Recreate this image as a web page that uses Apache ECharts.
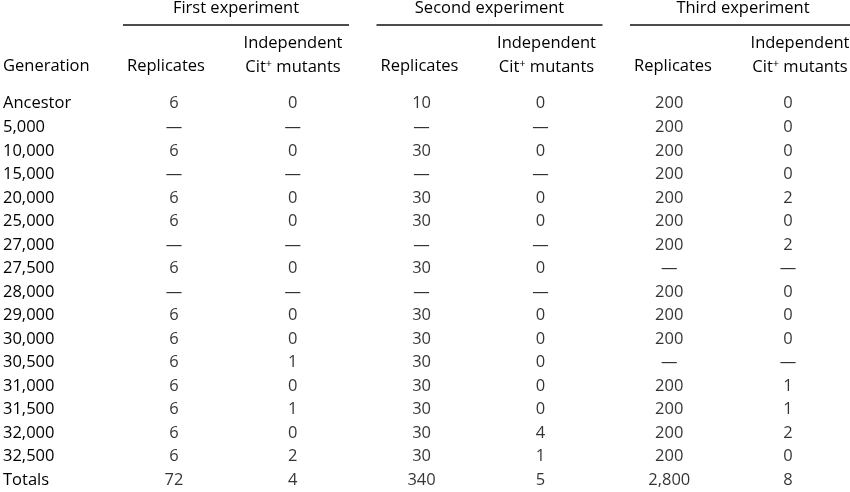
<!DOCTYPE html>
<html>
<head>
<meta charset="utf-8">
<script src="https://cdn.jsdelivr.net/npm/echarts@6/dist/echarts.min.js"></script>
<style>html,body{margin:0;padding:0;background:#fff}#main{width:850px;height:492px}</style>
</head>
<body>
<div id="main"></div>
<script>
// table data
const generations = ['Ancestor', '5,000', '10,000', '15,000', '20,000', '25,000', '27,000', '27,500', '28,000',
  '29,000', '30,000', '30,500', '31,000', '31,500', '32,000', '32,500', 'Totals'];
const D = '\u2014';
const rep1 = ['6', D, '6', D, '6', '6', D, '6', D, '6', '6', '6', '6', '6', '6', '6', '72'];
const mut1 = ['0', D, '0', D, '0', '0', D, '0', D, '0', '0', '1', '0', '1', '0', '2', '4'];
const rep2 = ['10', D, '30', D, '30', '30', D, '30', D, '30', '30', '30', '30', '30', '30', '30', '340'];
const mut2 = ['0', D, '0', D, '0', '0', D, '0', D, '0', '0', '0', '0', '0', '4', '1', '5'];
const rep3 = ['200', '200', '200', '200', '200', '200', '200', D, '200', '200', '200', D, '200', '200', '200', '200', '2,800'];
const mut3 = ['0', '0', '0', '0', '2', '0', '2', D, '0', '0', '0', D, '1', '1', '2', '0', '8'];
const columns = [rep1, mut1, rep2, mut2, rep3, mut3];
const experiments = ['First experiment', 'Second experiment', 'Third experiment'];

const font = '"Open Sans", "Noto Sans", sans-serif';
const ink = '#000';
const fs = 16.5;

const cells = [];
columns.forEach((col, c) => col.forEach((v, r) => cells.push({
  value: [c, r, v],
  label: { offset: [c % 2 === 0 ? 5 : 0, 0] }
})));

const chart = echarts.init(document.getElementById('main'));

// header texts and rules
const graphics = [];
experiments.forEach((name, i) => {
  const x0 = 123 + i * 253.5;
  graphics.push({ type: 'text', x: x0 + 113, y: 0,
    style: { text: name, font: fs + 'px ' + font, fill: ink, align: 'center' } });
  graphics.push({ type: 'line', shape: { x1: x0, y1: 25, x2: Math.min(x0 + 226, 850), y2: 25 },
    style: { stroke: '#111', lineWidth: 1.3 } });
});
graphics.push({ type: 'text', x: 3, y: 58, style: { text: 'Generation', font: fs + 'px ' + font, fill: ink } });
for (let i = 0; i < 3; i++) {
  const xr = 166 + i * 253.5;
  const xm = 293 + i * 253.5;
  graphics.push({ type: 'text', x: xr, y: 58, style: { text: 'Replicates', font: fs + 'px ' + font, fill: ink, align: 'center' } });
  graphics.push({ type: 'text', x: xm, y: 35, style: { text: 'Independent', font: fs + 'px ' + font, fill: ink, align: 'center' } });
  graphics.push({ type: 'text', x: xm, y: 58, style: {
    text: 'Cit{s|+} mutants', font: fs + 'px ' + font, fill: ink, align: 'center',
    rich: { s: { fontSize: 11, fontFamily: font, fill: ink, verticalAlign: 'top', padding: [0, 0, 7, 0] } } } });
}

chart.setOption({
  animation: false,
  grid: { left: 107, top: 92, width: 759, height: 407 },
  xAxis: { type: 'category', data: [0, 1, 2, 3, 4, 5], show: false },
  yAxis: {
    type: 'category', data: generations, inverse: true,
    axisLine: { show: false }, axisTick: { show: false }, splitLine: { show: false },
    axisLabel: { align: 'left', margin: 104, color: ink, fontSize: fs, fontFamily: font }
  },
  graphic: graphics,
  series: [{
    type: 'scatter', data: cells, symbolSize: 0,
    label: { show: true, position: 'inside', formatter: p => p.value[2],
      color: ink, fontSize: fs, fontFamily: font }
  }]
});
</script>
</body>
</html>
